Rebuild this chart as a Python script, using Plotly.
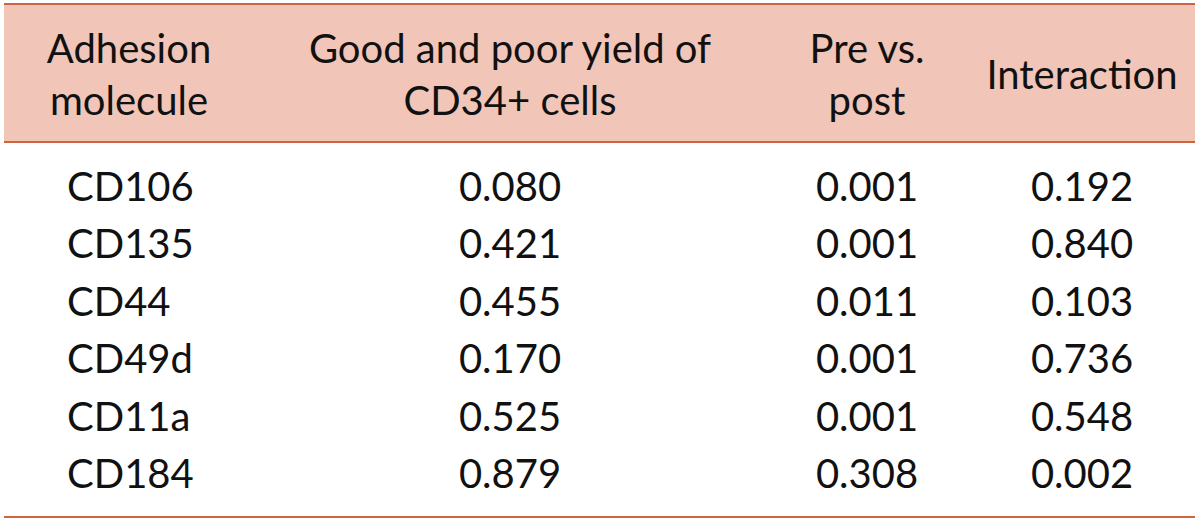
import plotly.graph_objects as go

# ---- data ----
headers = ["Adhesion<br>molecule", "Good and poor yield of<br>CD34+ cells", "Pre vs.<br>post", "Interaction"]
molecules = ["CD106", "CD135", "CD44", "CD49d", "CD11a", "CD184"]
good_poor = [0.080, 0.421, 0.455, 0.170, 0.525, 0.879]
pre_post = [0.001, 0.001, 0.011, 0.001, 0.001, 0.308]
interaction = [0.192, 0.840, 0.103, 0.736, 0.548, 0.002]

# ---- layout constants ----
W, H = 1200, 521
FONT = "Lato"
FS = 40
LINE_COL = "#CF6540"
HEAD_FILL = "#F1C5B7"
col_centers = [129, 510, 867, 1082]
col1_left = 67
row_top = 191
row_step = 57.4
header_y = 79

row_y = [row_top + i * row_step for i in range(len(molecules))]

fig = go.Figure()

# header text
fig.add_trace(go.Scatter(
    x=col_centers, y=[header_y] * len(headers), mode="text",
    text=headers, textposition="middle center",
    textfont=dict(family=FONT, size=FS, color="#111111"),
    hoverinfo="skip", showlegend=False))

# first column (left aligned)
fig.add_trace(go.Scatter(
    x=[col1_left] * len(molecules), y=row_y, mode="text",
    text=molecules, textposition="middle right",
    textfont=dict(family=FONT, size=FS, color="#111111"),
    hoverinfo="skip", showlegend=False))

for cx, vals in zip(col_centers[1:], [good_poor, pre_post, interaction]):
    fig.add_trace(go.Scatter(
        x=[cx] * len(vals), y=row_y, mode="text",
        text=[f"{v:.3f}" for v in vals], textposition="middle center",
        textfont=dict(family=FONT, size=FS, color="#111111"),
        hoverinfo="skip", showlegend=False))

# header background and rules
fig.add_shape(type="rect", x0=4, x1=1195, y0=4, y1=142, fillcolor=HEAD_FILL,
              line=dict(width=0), layer="below")
for yy in [4, 142, 517]:
    fig.add_shape(type="line", x0=4, x1=1195, y0=yy, y1=yy,
                  line=dict(color=LINE_COL, width=2.2), layer="above")

fig.update_layout(
    width=W, height=H,
    margin=dict(l=0, r=0, t=0, b=0),
    paper_bgcolor="white", plot_bgcolor="white",
    xaxis=dict(range=[0, W], visible=False, fixedrange=True),
    yaxis=dict(range=[H, 0], visible=False, fixedrange=True),
)

fig.write_html("out.html", config={"displayModeBar": False},
               post_script="document.body.style.margin='0';document.body.style.overflow='hidden';")
